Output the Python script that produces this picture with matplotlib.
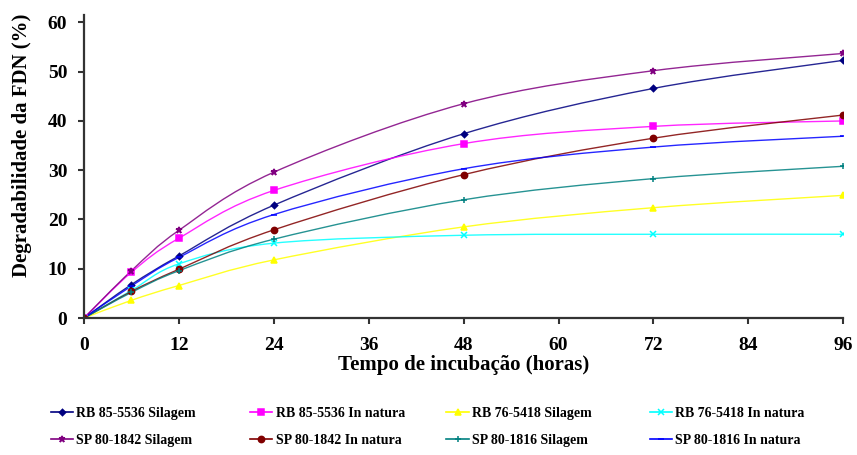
import matplotlib.pyplot as plt
from matplotlib.path import Path
from matplotlib.patches import PathPatch
from matplotlib.lines import Line2D
from matplotlib.legend import Legend

plt.rcParams['font.family'] = ['Liberation Serif', 'DejaVu Serif']
plt.rcParams['font.weight'] = 'bold'

# incubation times (h)
horas = [0, 6, 12, 24, 48, 72, 96]

# FDN degradability (%) per treatment
rb855536_silagem = [0, 6.8, 12.6, 22.9, 37.4, 46.6, 52.3]
rb855536_natura = [0, 9.3, 16.2, 25.9, 35.4, 38.9, 40.0]
rb765418_silagem = [0, 3.6, 6.6, 11.8, 18.5, 22.4, 24.9]
rb765418_natura = [0, 5.6, 11.0, 15.2, 16.8, 17.0, 17.0]
sp801842_silagem = [0, 9.6, 17.8, 29.6, 43.5, 50.2, 53.7]
sp801842_natura = [0, 5.4, 9.9, 17.9, 29.1, 36.5, 41.2]
sp801816_silagem = [0, 5.2, 9.6, 16.0, 24.0, 28.3, 30.8]
sp801816_natura = [0, 6.5, 12.3, 21.0, 30.3, 34.7, 36.9]

nomes = ['RB 85-5536 Silagem', 'RB 85-5536 In natura', 'RB 76-5418 Silagem',
         'RB 76-5418 In natura', 'SP 80-1842 Silagem', 'SP 80-1842 In natura',
         'SP 80-1816 Silagem', 'SP 80-1816 In natura']
series = [rb855536_silagem, rb855536_natura, rb765418_silagem, rb765418_natura,
          sp801842_silagem, sp801842_natura, sp801816_silagem, sp801816_natura]
cores = ['#000080', '#FF00FF', '#FFFF00', '#00FFFF',
         '#800080', '#800000', '#008080', '#0000FF']
marcadores = ['D', 's', '^', 'x', '*', 'o', '+', '_']
tamanhos = [3.2, 4.5, 4.5, 4, 4.5, 4.5, 5, 5]


def smooth_path(x, y):
    # Excel-style smoothed line: Bezier segments through the data points
    pts = list(zip(x, y))
    n = len(pts)
    verts = [pts[0]]
    codes = [Path.MOVETO]
    for i in range(n - 1):
        p0 = pts[i - 1] if i > 0 else pts[i]
        p1 = pts[i]
        p2 = pts[i + 1]
        p3 = pts[i + 2] if i + 2 < n else pts[i + 1]
        c1 = (p1[0] + (p2[0] - p0[0]) / 6, p1[1] + (p2[1] - p0[1]) / 6)
        c2 = (p2[0] - (p3[0] - p1[0]) / 6, p2[1] - (p3[1] - p1[1]) / 6)
        verts += [c1, c2, p2]
        codes += [Path.CURVE4] * 3
    return Path(verts, codes)


fig = plt.figure(figsize=(8.57, 4.55), dpi=100)
ax = fig.add_axes([0.098, 0.301, 0.886, 0.666])

handles = []
for vals, cor, mk, ms, nome in zip(series, cores, marcadores, tamanhos, nomes):
    ax.add_patch(PathPatch(smooth_path(horas, vals), facecolor='none',
                           edgecolor=cor, lw=1.0, alpha=0.85))
    ax.plot(horas, vals, linestyle='none', marker=mk, markersize=ms,
            color=cor, markeredgewidth=1.1)
    handles.append(Line2D([], [], color=cor, lw=1.2, marker=mk,
                          markersize=ms, markeredgewidth=1.1, label=nome))

ax.set_xlim(0, 96)
ax.set_ylim(0, 61.5)
ax.set_xticks(range(0, 97, 12))
ax.set_yticks(range(0, 61, 10))
for s in ['top', 'right']:
    ax.spines[s].set_visible(False)
for s in ['left', 'bottom']:
    ax.spines[s].set_color('#333333')
    ax.spines[s].set_linewidth(1.6)
ax.tick_params(axis='both', direction='out', length=4, width=1.5,
               color='#333333', labelsize=14)
ax.tick_params(axis='x', pad=10)
ax.tick_params(axis='y', pad=8)

fig.text(0.541, 0.198, 'Tempo de incubação (horas)', ha='center', va='center',
         fontsize=15, fontweight='bold')
fig.text(0.026, 0.681, 'Degradabilidade da FDN (%)', ha='center', va='center',
         rotation=90, fontsize=15, fontweight='bold')

# legend: four columns of two entries
col_x = [0.059, 0.292, 0.521, 0.758]
for j, x0 in enumerate(col_x):
    leg = Legend(fig, [handles[j], handles[j + 4]],
                 [nomes[j], nomes[j + 4]], loc='upper left',
                 bbox_to_anchor=(x0, 0.106), frameon=False,
                 fontsize=10, handlelength=1.6, handletextpad=0.25,
                 borderpad=0, borderaxespad=0, labelspacing=1.05)
    fig.add_artist(leg)

fig.savefig('out.png', dpi=100)
